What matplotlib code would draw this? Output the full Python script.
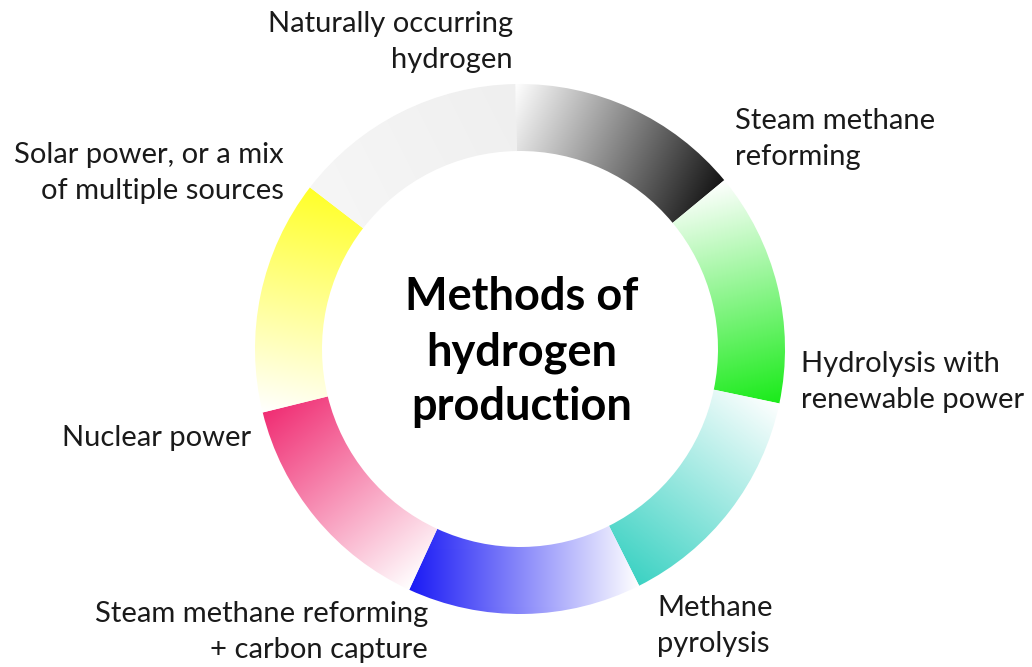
import numpy as np
import matplotlib
matplotlib.use("Agg")
import matplotlib.pyplot as plt
from matplotlib.patches import Wedge

# Segmentos del anillo (sentido horario desde arriba)
labels = ["Steam methane\nreforming",
          "Hydrolysis with\nrenewable power",
          "Methane\npyrolysis",
          "Steam methane reforming\n+ carbon capture",
          "Nuclear power",
          "Solar power, or a mix\nof multiple sources",
          "Naturally occurring\nhydrogen"]
end_colors = ["#141414", "#19eb19", "#3cd2c3", "#1919f5", "#f02d73", "#ffff28", "#efefef"]
start_colors = ["#ffffff", "#ffffff", "#ffffff", "#ffffff", "#ffffff", "#ffffff", "#f6f6f6"]
title = "Methods of\nhydrogen\nproduction"

# Posiciones de las etiquetas (x, línea base de la primera línea, alineación)
label_pos = [(735, 129, "left"), (801, 372, "left"), (657, 616, "left"),
             (428, 622, "right"), (251, 446, "right"), (284, 163, "right"),
             (513, 32, "right")]

W, H = 1032, 667
cx, cy = 520, 349
r_out, r_in = 265, 198
start_angle = 91.0
n = len(labels)
step = 360.0 / n

fig = plt.figure(figsize=(W / 100, H / 100), dpi=100)
ax = fig.add_axes([0, 0, 1, 1])
ax.set_xlim(0, W)
ax.set_ylim(H, 0)
ax.axis("off")

yy, xx = np.mgrid[0:H, 0:W] + 0.5


def to_rgb(c):
    return np.array(matplotlib.colors.to_rgb(c))


for i in range(n):
    # ángulos visuales (antihorario), el segmento va en sentido horario
    a0 = start_angle - i * step
    a1 = a0 - step
    # en coordenadas de datos (y invertida) el ángulo cambia de signo
    wedge = Wedge((cx, cy), r_out, -a0, -a1, width=r_out - r_in,
                  transform=ax.transData, facecolor="none", edgecolor="none")
    # puntos del segmento para el gradiente lineal
    angs = np.radians(np.linspace(a0, a1, 50))
    px = np.concatenate([cx + r_out * np.cos(angs), cx + r_in * np.cos(angs)])
    py = np.concatenate([cy - r_out * np.sin(angs), cy - r_in * np.sin(angs)])
    rm = (r_out + r_in) / 2
    sx, sy = cx + rm * np.cos(np.radians(a0)), cy - rm * np.sin(np.radians(a0))
    ex, ey = cx + rm * np.cos(np.radians(a1)), cy - rm * np.sin(np.radians(a1))
    dx, dy = ex - sx, ey - sy
    proj = px * dx + py * dy
    pmin, pmax = proj.min(), proj.max()
    t = np.clip(((xx * dx + yy * dy) - pmin) / (pmax - pmin), 0, 1)
    c0 = to_rgb(start_colors[i])
    c1 = to_rgb(end_colors[i])
    img = c0[None, None, :] * (1 - t[..., None]) + c1[None, None, :] * t[..., None]
    im = ax.imshow(img, extent=(0, W, H, 0), origin="upper", interpolation="bilinear", zorder=2)
    im.set_clip_path(wedge)

    # etiquetas
    x, y0, ha = label_pos[i]
    for j, line in enumerate(labels[i].split("\n")):
        ax.text(x, y0 + j * 36, line, ha=ha, va="baseline", fontsize=21,
                family="Lato", color="#1a1a1a", zorder=3)

ax.set_aspect("auto")
ax.set_xlim(0, W)
ax.set_ylim(H, 0)

for j, line in enumerate(title.split("\n")):
    ax.text(522, 310 + j * 55, line, ha="center", va="baseline", fontsize=32.5,
            family="Lato", fontweight="bold", color="#000000", zorder=3)

fig.savefig("out.png", dpi=100, facecolor="white")
